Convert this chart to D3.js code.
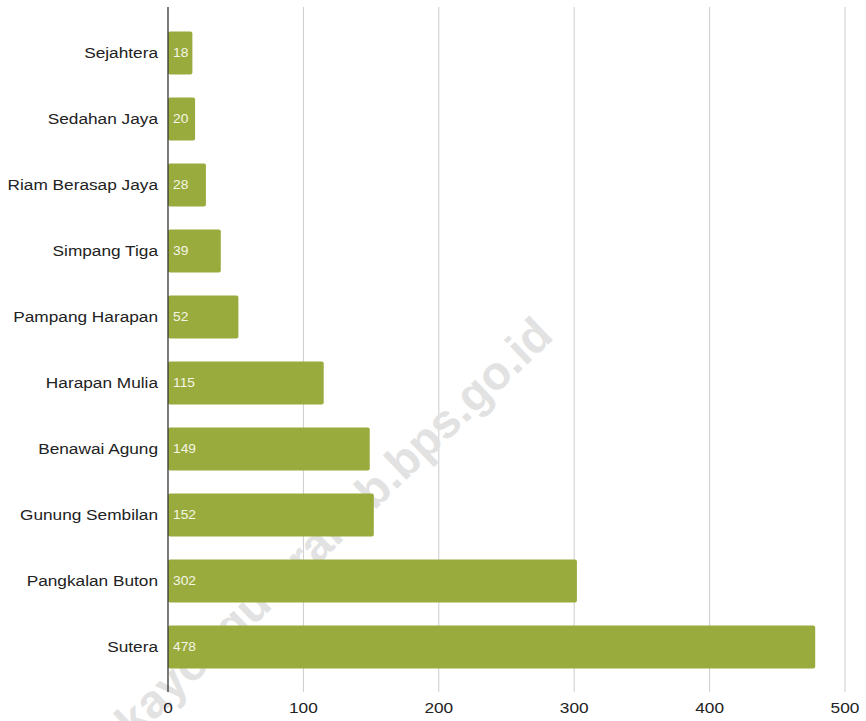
<!DOCTYPE html>
<html>
<head>
<meta charset="utf-8">
<script src="https://cdn.jsdelivr.net/npm/d3@7"></script>
<style>
  body { margin: 0; background: #fff; }
  text { font-family: "Liberation Sans", Arial, sans-serif; }
</style>
</head>
<body>
<script>
var width = 866;
var height = 721;

// data
var desa = ["Sejahtera", "Sedahan Jaya", "Riam Berasap Jaya", "Simpang Tiga", "Pampang Harapan",
            "Harapan Mulia", "Benawai Agung", "Gunung Sembilan", "Pangkalan Buton", "Sutera"];
var nilai = [18, 20, 28, 39, 52, 115, 149, 152, 302, 478];
var xTicks = [0, 100, 200, 300, 400, 500];

var rows = desa.map(function(d, i) { return {name: d, value: nilai[i]}; });
var sx = 1.15; // the text in the original looks a bit stretched sideways

var svg = d3.select("body").append("svg")
    .attr("width", width)
    .attr("height", height);

var x = d3.scaleLinear()
    .domain([0, 500])
    .range([168, 845]);

var y = d3.scaleBand()
    .domain(desa)
    .range([20, 680])
    .paddingInner(0.35)
    .paddingOuter(0.175);

// grid
svg.append("g").attr("class", "grid")
    .selectAll("line")
    .data(xTicks.slice(1))
    .enter()
    .append("line")
    .attr("x1", function(d) { return x(d); })
    .attr("x2", function(d) { return x(d); })
    .attr("y1", 7)
    .attr("y2", 692)
    .style("stroke", "#cccccc")
    .style("stroke-width", 1);

// watermark
svg.append("text")
    .attr("transform", "translate(336,530) rotate(-43.7)")
    .attr("text-anchor", "middle")
    .attr("dominant-baseline", "middle")
    .style("font-size", "47px")
    .style("font-weight", "bold")
    .style("fill", "#e2e2e2")
    .text("kayongutarakab.bps.go.id");

// bars
svg.append("g").attr("class", "bars")
    .selectAll("rect")
    .data(rows)
    .enter()
    .append("rect")
    .attr("x", x(0))
    .attr("y", function(d) { return y(d.name); })
    .attr("width", function(d) { return x(d.value) - x(0); })
    .attr("height", y.bandwidth())
    .attr("rx", 2)
    .style("fill", "#9aab3d");

// value labels
svg.append("g").attr("class", "values")
    .selectAll("text")
    .data(rows)
    .enter()
    .append("text")
    .attr("transform", function(d) {
        return "translate(" + (x(0) + 5) + "," + (y(d.name) + y.bandwidth() / 2) + ") scale(" + sx + ",1)";
    })
    .attr("dy", "0.35em")
    .style("font-size", "12px")
    .style("fill", "#f4f6e6")
    .text(function(d) { return d.value; });

// category labels
svg.append("g").attr("class", "cats")
    .selectAll("text")
    .data(rows)
    .enter()
    .append("text")
    .attr("transform", function(d) {
        return "translate(158," + (y(d.name) + y.bandwidth() / 2) + ") scale(" + sx + ",1)";
    })
    .attr("dy", "0.35em")
    .attr("text-anchor", "end")
    .style("font-size", "15px")
    .style("fill", "#222")
    .text(function(d) { return d.name; });

// baseline
svg.append("line")
    .attr("x1", x(0)).attr("x2", x(0))
    .attr("y1", 7).attr("y2", 692)
    .style("stroke", "#333")
    .style("stroke-width", 1.3);

// x tick labels
svg.append("g").attr("class", "xlabels")
    .selectAll("text")
    .data(xTicks)
    .enter()
    .append("text")
    .attr("transform", function(d) { return "translate(" + x(d) + ",713) scale(" + sx + ",1)"; })
    .attr("text-anchor", "middle")
    .style("font-size", "15px")
    .style("fill", "#222")
    .text(function(d) { return d; });
</script>
</body>
</html>
